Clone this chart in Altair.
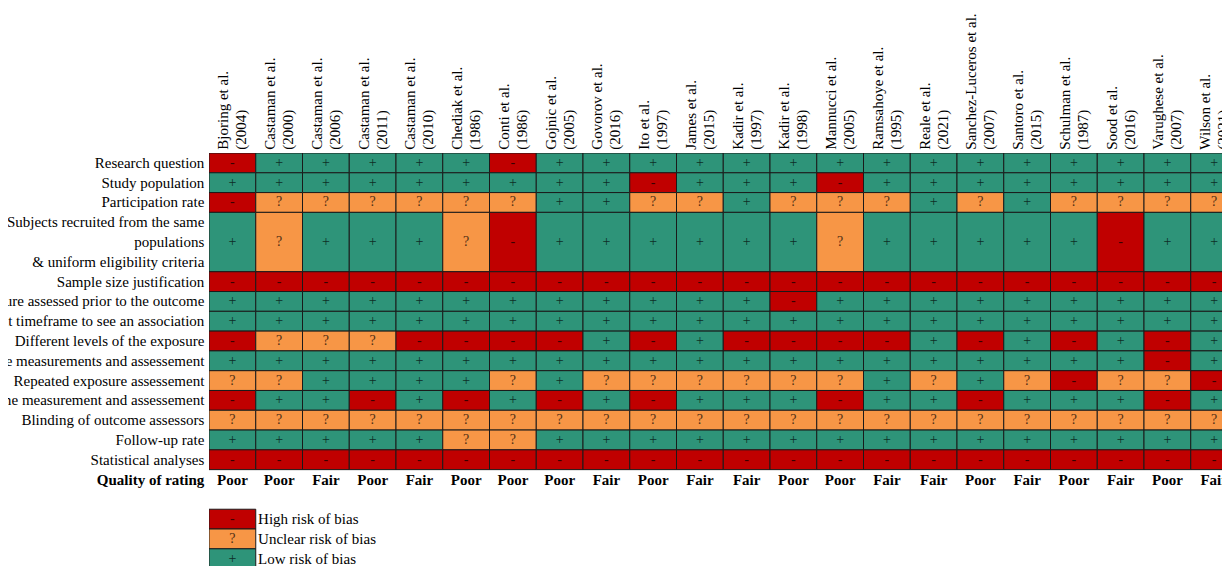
import altair as alt
import pandas as pd

study_names = ["Bjoring et al.", "Castaman et al.", "Castaman et al.", "Castaman et al.",
               "Castaman et al.", "Chediak et al.", "Conti et al.", "Gojnic et al.",
               "Govorov et al.", "Ito et al.", "James et al.", "Kadir et al.", "Kadir et al.",
               "Mannucci et al.", "Ramsahoye et al.", "Reale et al.", "Sanchez-Luceros et al.",
               "Santoro et al.", "Schulman et al.", "Sood et al.", "Varughese et al.", "Wilson et al."]
study_years = ["(2004)", "(2000)", "(2006)", "(2011)", "(2010)", "(1986)", "(1986)", "(2005)",
               "(2016)", "(1997)", "(2015)", "(1997)", "(1998)", "(2005)", "(1995)", "(2021)",
               "(2007)", "(2015)", "(1987)", "(2016)", "(2007)", "(2021)"]

criteria = ["Research question", "Study population", "Participation rate",
            "Subjects recruited from the same\npopulations\n& uniform eligibility criteria",
            "Sample size justification", "Exposure assessed prior to the outcome",
            "Sufficient timeframe to see an association", "Different levels of the exposure",
            "Exposure measurements and assessement", "Repeated exposure assessement",
            "Outcome measurement and assessement", "Blinding of outcome assessors",
            "Follow-up rate", "Statistical analyses"]
row_span = [1, 1, 1, 3, 1, 1, 1, 1, 1, 1, 1, 1, 1, 1]

ratings = [
    "-+++++-+++++++++++++++",
    "+++++++++-+++-++++++++",
    "-??????++??+???+?+????",
    "+?+++?-++++++?+++++-++",
    "----------------------",
    "++++++++++++-+++++++++",
    "++++++++++++++++++++++",
    "-???----+-+----+-+-+-+",
    "++++++++++++++++++++-+",
    "??++++?+??????+?+?-??-",
    "-++-+-+-+-+++-++-+++-+",
    "??????????????????????",
    "+++++??+++++++++++++++",
    "----------------------",
]

quality = ["Poor", "Poor", "Fair", "Poor", "Fair", "Poor", "Poor", "Poor", "Fair", "Poor", "Fair",
           "Fair", "Poor", "Poor", "Fair", "Fair", "Poor", "Fair", "Poor", "Fair", "Poor", "Fair"]
quality_title = "Quality of rating"

legend_keys = ["-", "?", "+"]
legend_labels = ["High risk of bias", "Unclear risk of bias", "Low risk of bias"]
risk_colors = ["#C00000", "#F79646", "#2E9479"]

W, H = 1013, 413
COLW, ROWH = 46.75, 19.79
LABEL_X = -0.1      # label anchor just left of the grid (column units)
HEAD_Y = -0.17      # header anchor just above the grid (row units)

# ---- tables built from the lists ----
cell_rows = []
row_rows = []
y = 0
for crit, span, vals in zip(criteria, row_span, ratings):
    nlines = crit.count("\n") + 1
    row_rows.append({"label": crit, "yc": y + span / 2 - (nlines - 1) / 2, "lx": LABEL_X})
    for i, v in enumerate(vals):
        cell_rows.append({"x0": i, "x1": i + 1, "xc": i + 0.5, "y0": y, "y1": y + span,
                          "yc": y + span / 2, "v": v})
    y += span
n_units = y
cells = pd.DataFrame(cell_rows)
rowlab = pd.DataFrame(row_rows)
qlab = pd.DataFrame([{"label": quality_title, "yc": n_units + 0.5, "lx": LABEL_X}])

heads = pd.DataFrame({"xc": [i + 0.5 for i in range(len(study_names))],
                      "hy": [HEAD_Y] * len(study_names),
                      "text": [n + "\n" + yr for n, yr in zip(study_names, study_years)]})
qual = pd.DataFrame({"xc": [i + 0.5 for i in range(len(quality))], "q": quality,
                     "yc": [n_units + 0.5] * len(quality)})
leg = pd.DataFrame({"v": legend_keys, "label": legend_labels,
                    "y0": [n_units + 2 + k for k in range(3)],
                    "y1": [n_units + 3 + k for k in range(3)],
                    "yc": [n_units + 2.5 + k for k in range(3)],
                    "x0": [0] * 3, "x1": [1] * 3, "xc": [0.5] * 3, "lx": [1.05] * 3})

xs = alt.Scale(domain=[0, W / COLW], nice=False, zero=False)
ys = alt.Scale(domain=[0, H / ROWH], nice=False, zero=False, reverse=True)
col = alt.Color("v:N", scale=alt.Scale(domain=legend_keys, range=risk_colors), legend=None)
FONT = "Liberation Serif"

rects = alt.Chart(cells).mark_rect(stroke="#1a1a1a", strokeWidth=1, clip=True).encode(
    x=alt.X("x0:Q", scale=xs, axis=None), x2="x1:Q",
    y=alt.Y("y0:Q", scale=ys, axis=None), y2="y1:Q", color=col)

syms = alt.Chart(cells).mark_text(font=FONT, fontSize=14, color="black", opacity=0.7,
                                  baseline="middle", clip=True).encode(
    x=alt.X("xc:Q", scale=xs, axis=None), y=alt.Y("yc:Q", scale=ys, axis=None), text="v:N")

# rotated text: the local dy offset moves the block horizontally on screen
headers = alt.Chart(heads).mark_text(font=FONT, fontSize=15, color="black", angle=270,
                                     align="left", baseline="middle", lineBreak="\n",
                                     lineHeight=18, dy=-9).encode(
    x=alt.X("xc:Q", scale=xs, axis=None), y=alt.Y("hy:Q", scale=ys, axis=None), text="text:N")

rlabels = alt.Chart(rowlab).mark_text(font=FONT, fontSize=15, color="black", align="right",
                                      baseline="middle", lineBreak="\n", lineHeight=ROWH).encode(
    x=alt.X("lx:Q", scale=xs, axis=None), y=alt.Y("yc:Q", scale=ys, axis=None), text="label:N")

qlabel = alt.Chart(qlab).mark_text(font=FONT, fontSize=15, fontWeight="bold", color="black",
                                   align="right", baseline="middle").encode(
    x=alt.X("lx:Q", scale=xs, axis=None), y=alt.Y("yc:Q", scale=ys, axis=None), text="label:N")

qtext = alt.Chart(qual).mark_text(font=FONT, fontSize=15, fontWeight="bold", color="black",
                                  baseline="middle").encode(
    x=alt.X("xc:Q", scale=xs, axis=None), y=alt.Y("yc:Q", scale=ys, axis=None), text="q:N")

lrects = alt.Chart(leg).mark_rect(stroke="#1a1a1a", strokeWidth=1, clip=True).encode(
    x=alt.X("x0:Q", scale=xs, axis=None), x2="x1:Q",
    y=alt.Y("y0:Q", scale=ys, axis=None), y2="y1:Q", color=col)

lsyms = alt.Chart(leg).mark_text(font=FONT, fontSize=14, color="black", opacity=0.7,
                                 baseline="middle").encode(
    x=alt.X("xc:Q", scale=xs, axis=None), y=alt.Y("yc:Q", scale=ys, axis=None), text="v:N")

ltext = alt.Chart(leg).mark_text(font=FONT, fontSize=15, color="black", align="left",
                                 baseline="middle").encode(
    x=alt.X("lx:Q", scale=xs, axis=None), y=alt.Y("yc:Q", scale=ys, axis=None), text="label:N")

chart = alt.layer(rects, syms, headers, rlabels, qlabel, qtext, lrects, lsyms, ltext).properties(
    width=W, height=H,
    padding={"left": 201, "top": 145, "right": 0, "bottom": 0},
    autosize=alt.AutoSizeParams(type="none"),
).configure_view(stroke=None)

chart.save("out.html", embed_options={"renderer": "svg", "actions": False})
